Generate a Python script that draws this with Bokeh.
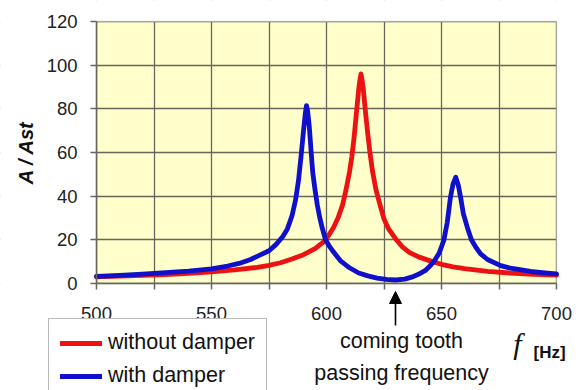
from bokeh.plotting import figure
from bokeh.models import (Range1d, FixedTicker, Legend, LegendItem, Label, Arrow,
                          NormalHead, ColumnDataSource, BoxAnnotation)
from bokeh.embed import file_html
from bokeh.resources import INLINE

# ---- data ----
freq_without = [500, 510, 520, 530, 540, 550, 560, 570, 575, 580, 585, 590, 595, 598.6,
                600, 603, 605, 607, 608.5, 610, 611, 612, 613, 614, 614.5, 615, 615.5,
                616, 617, 618, 619, 620, 621.5, 623, 625, 627, 630, 633, 636, 640,
                646.7, 650, 655, 660, 670, 680, 690, 700]
amp_without = [3.1, 3.4, 3.7, 4.1, 4.6, 5.3, 6.2, 7.4, 8.3, 9.5, 11.2, 13.2, 16.0, 19.0,
               20.5, 25.5, 30.0, 36.0, 43.0, 51.0, 58.0, 67.0, 78.0, 89.0, 93.0, 96.0, 93.0,
               89.0, 78.0, 68.0, 59.0, 51.5, 43.0, 37.0, 29.5, 25.0, 20.5, 16.8, 14.3, 12.2,
               9.8, 8.8, 7.6, 6.8, 5.6, 4.8, 4.2, 3.8]

freq_with = [500, 510, 520, 530, 540, 550, 557, 562, 567, 571, 575, 578, 581, 583, 585,
             586.5, 587.8, 589, 590, 590.8, 591.3, 591.8, 592.5, 593.2, 594, 595, 596,
             597, 598, 599.6, 601, 603, 606, 610, 614, 618, 622, 626, 630, 634, 637,
             640, 643, 645.2, 647, 649, 651, 652.5, 653.9, 655, 656.2, 657.3, 658.3,
             659.5, 661.2, 663, 665, 667, 670, 675.7, 680, 688.7, 695, 700]
amp_with = [3.3, 3.7, 4.3, 5.0, 5.7, 6.7, 8.0, 9.2, 11.0, 13.0, 15.0, 17.8, 21.5, 25.0, 31.0,
            38.0, 47.0, 59.0, 70.0, 78.0, 81.5, 79.0, 72.0, 62.0, 51.0, 43.0, 36.0,
            30.5, 26.0, 20.0, 17.5, 14.5, 10.5, 7.2, 4.8, 3.5, 2.5, 1.9, 1.6, 2.0, 2.9,
            4.2, 6.0, 8.2, 10.5, 14.0, 19.7, 28.0, 39.5, 45.5, 48.7, 45.0, 39.5,
            32.0, 25.8, 20.0, 16.5, 13.6, 11.0, 8.2, 7.0, 5.5, 4.9, 4.4]

x_tick_values = [500, 525, 550, 575, 600, 625, 650, 675, 700]
x_tick_labels = ["500", "", "550", "", "600", "", "650", "", "700"]
y_tick_values = [0, 20, 40, 60, 80, 100, 120]
x_min, x_max = 500, 700
y_min, y_max = 0, 120

series_names = ["without damper", "with damper"]
annotation_lines = ["coming tooth", "passing frequency"]
tooth_freq = 630

# ---- figure: the frame spans the whole canvas so that the legend and the
# notes below the axis are not clipped; the axes sit at fixed locations ----
W, H = 578, 390
px_per_x = 2.3          # pixels per Hz
px_per_y = 262 / 120    # pixels per unit of A/Ast
x0 = x_min - 96 / px_per_x
x1 = x0 + W / px_per_x
y1 = y_max + 21 / px_per_y
y0 = y1 - H / px_per_y
p = figure(width=W, height=H, output_backend="svg", toolbar_location=None,
           x_range=Range1d(x0, x1), y_range=Range1d(y0, y1), min_border=0)
p.background_fill_color = "white"
p.border_fill_color = "white"
p.outline_line_color = None

font = "Liberation Sans"
p.xaxis.fixed_location = y_min
p.yaxis.fixed_location = x_min
p.xaxis.bounds = (x_min, x_max)
p.yaxis.bounds = (y_min, y_max)
p.xaxis.ticker = FixedTicker(ticks=x_tick_values)
p.xaxis.major_label_overrides = {v: l for v, l in zip(x_tick_values, x_tick_labels)}
p.yaxis.ticker = FixedTicker(ticks=y_tick_values)
for ax in (p.xaxis[0], p.yaxis[0]):
    ax.major_label_text_font = font
    ax.major_label_text_font_size = "18.5px"
    ax.major_label_text_color = "#222222"
    ax.axis_line_color = "#66665c"
    ax.axis_line_width = 1.5
    ax.major_tick_line_color = "#66665c"
    ax.major_tick_line_width = 1.5
    ax.major_tick_in = 0
    ax.major_tick_out = 6
    ax.minor_tick_line_color = None
p.xaxis.major_label_standoff = 17
p.yaxis.major_label_standoff = 13

p.yaxis.axis_label = "A / Ast"
p.yaxis.axis_label_text_font = font
p.yaxis.axis_label_text_font_style = "bold italic"
p.yaxis.axis_label_text_font_size = "20px"
p.yaxis.axis_label_text_color = "#111111"
p.yaxis.axis_label_standoff = 7

p.grid.grid_line_color = "#66665a"
p.grid.grid_line_width = 1.3

# plot-area fill under the grid, white masks that trim the grid to the plot area
p.add_layout(BoxAnnotation(left=x_min, right=x_max, bottom=y_min, top=y_max,
                           fill_color="#FFFFCC", fill_alpha=1, line_color=None,
                           level="image"))
for kw in (dict(left=x0 - 5, right=x1 + 5, bottom=y0 - 5, top=y_min),
           dict(left=x0 - 5, right=x1 + 5, bottom=y_max, top=y1 + 5),
           dict(left=x0 - 5, right=x_min, bottom=y0 - 5, top=y1 + 5),
           dict(left=x_max, right=x1 + 5, bottom=y0 - 5, top=y1 + 5)):
    p.add_layout(BoxAnnotation(fill_color="white", fill_alpha=1, line_color=None,
                               level="underlay", **kw))
p.add_layout(BoxAnnotation(left=x_min, right=x_max, bottom=y_min, top=y_max,
                           fill_alpha=0, line_color="#8f8f86", line_width=1.5,
                           level="underlay"))

src_without = ColumnDataSource(dict(f=freq_without, a=amp_without))
src_with = ColumnDataSource(dict(f=freq_with, a=amp_with))
r_red = p.line("f", "a", source=src_without, line_color="#ee1111", line_width=4.8,
               line_join="round", line_cap="round")
r_blue = p.line("f", "a", source=src_with, line_color="#1010cc", line_width=4.8,
                line_join="round", line_cap="round")

legend = Legend(items=[LegendItem(label=series_names[0], renderers=[r_red]),
                       LegendItem(label=series_names[1], renderers=[r_blue])],
                location=(48, -10), orientation="vertical")
legend.label_text_font = font
legend.label_text_font_size = "21.5px"
legend.label_text_color = "#111111"
legend.glyph_width = 42
legend.glyph_height = 20
legend.label_standoff = 6
legend.padding = 11
legend.spacing = 8
legend.margin = 0
legend.border_line_color = "#7a7a7a"
legend.border_line_width = 1.2
legend.background_fill_color = "white"
legend.background_fill_alpha = 1
p.add_layout(legend, "center")

# arrow pointing at the tooth passing frequency
p.add_layout(Arrow(x_start=tooth_freq, y_start=-42 / px_per_y,
                   x_end=tooth_freq, y_end=-8 / px_per_y,
                   start_units="data", end_units="data",
                   line_color="black", line_width=1.6,
                   end=NormalHead(size=12, fill_color="black", line_color="black")))

for i, txt in enumerate(annotation_lines):
    p.add_layout(Label(x=401, y=50 - 32 * i, x_units="screen", y_units="screen",
                       text=txt, text_align="center", text_baseline="middle",
                       text_font=font, text_font_size="21.5px", text_color="#111111"))

p.add_layout(Label(x=517, y=47, x_units="screen", y_units="screen", text="f",
                   text_align="center", text_baseline="middle",
                   text_font="Liberation Serif", text_font_style="italic",
                   text_font_size="30px", text_color="#111111"))
p.add_layout(Label(x=533, y=38, x_units="screen", y_units="screen", text="[Hz]",
                   text_align="left", text_baseline="middle",
                   text_font=font, text_font_style="bold",
                   text_font_size="17px", text_color="#111111"))

open("out.html", "w").write(file_html(p, INLINE))
